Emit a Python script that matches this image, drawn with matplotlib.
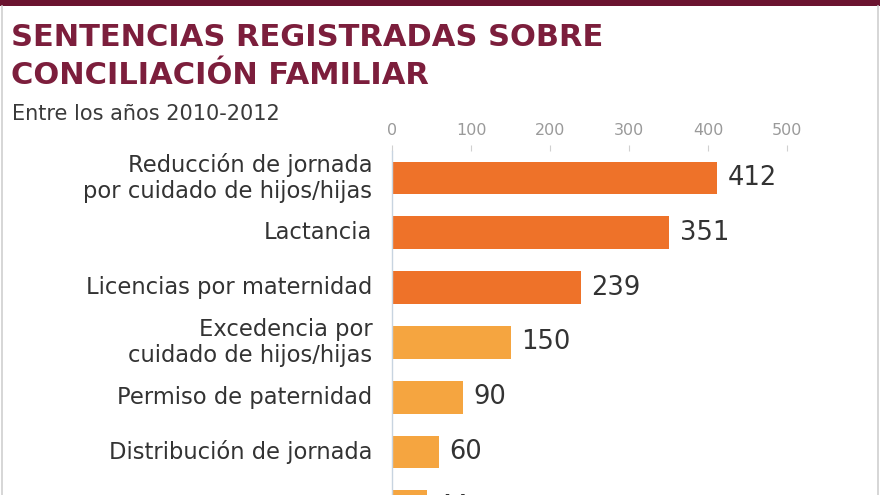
import matplotlib
matplotlib.use("Agg")
import matplotlib.pyplot as plt
from matplotlib.lines import Line2D
from matplotlib.patches import Rectangle

# datos (la ultima barra sale cortada en el original)
categorias = [
    "Reducción de jornada\npor cuidado de hijos/hijas",
    "Lactancia",
    "Licencias por maternidad",
    "Excedencia por\ncuidado de hijos/hijas",
    "Permiso de paternidad",
    "Distribución de jornada",
    "Adaptación de jornada",
]
valores = [412, 351, 239, 150, 90, 60, 44]
colores = ["#EE7229", "#EE7229", "#EE7229", "#F5A540", "#F5A540", "#F5A540", "#F5A540"]
ticks = [0, 100, 200, 300, 400, 500]

plt.rcParams["font.family"] = ["DejaVu Sans"]

W, H = 880, 495
fig = plt.figure(figsize=(W / 100, H / 100), dpi=100)
fig.patch.set_facecolor("white")

# banda superior y bordes
fig.add_artist(Rectangle((0, 1 - 6 / H), 1, 6 / H, transform=fig.transFigure,
                         color="#6B1430", lw=0))
fig.add_artist(Line2D([1.5 / W, 1.5 / W], [0, 1 - 6 / H], transform=fig.transFigure,
                      color="#cfcfcf", lw=1.2))
fig.add_artist(Line2D([1 - 2 / W, 1 - 2 / W], [0, 1 - 6 / H], transform=fig.transFigure,
                      color="#cfcfcf", lw=1.2))

titulo_color = "#7C1E3C"
fig.text(11 / W, 1 - 38 / H, "SENTENCIAS REGISTRADAS SOBRE", fontsize=22,
         fontweight="bold", color=titulo_color, va="center", ha="left")
fig.text(11 / W, 1 - 75 / H, "CONCILIACIÓN FAMILIAR", fontsize=22,
         fontweight="bold", color=titulo_color, va="center", ha="left")
fig.text(12 / W, 1 - 114 / H, "Entre los años 2010-2012", fontsize=15,
         color="#3a3a3a", va="center", ha="left")

# ejes: 0 en x=392px, 500 en x=787px; filas cada ~54.8px empezando en y=178px
x0, x1 = 392, 787
paso = 54.8
top_px = 178 - 0.5 * paso
ymax = (H - 178) / paso
ax = fig.add_axes([x0 / W, 0, (x1 - x0) / W, (H - top_px) / H])
ax.set_xlim(0, 500)
ax.set_ylim(ymax, -0.5)

pos = list(range(len(categorias)))
ax.barh(pos, valores, height=0.6, color=colores, edgecolor="none", zorder=2)

for y, v in zip(pos, valores):
    ax.text(v + 13, y, str(v), fontsize=18.5, color="#333333", va="center", ha="left",
            clip_on=False)
for y, c in zip(pos, categorias):
    ax.text(-25, y, c, fontsize=16.3, color="#333333", va="center", ha="right",
            linespacing=1.15, clip_on=False)

ax.xaxis.tick_top()
ax.set_xticks(ticks)
ax.set_xticklabels([str(t) for t in ticks])
ax.tick_params(axis="x", length=4, width=0.8, color="#d0d0d0", labelcolor="#9a9a9a",
               labelsize=11.5, pad=5, direction="out")
ax.set_yticks([])
for s in ["top", "right", "bottom"]:
    ax.spines[s].set_visible(False)
ax.spines["left"].set_color("#c8d4e0")
ax.spines["left"].set_linewidth(1)
ax.patch.set_alpha(0)

fig.savefig("out.png", dpi=100)
